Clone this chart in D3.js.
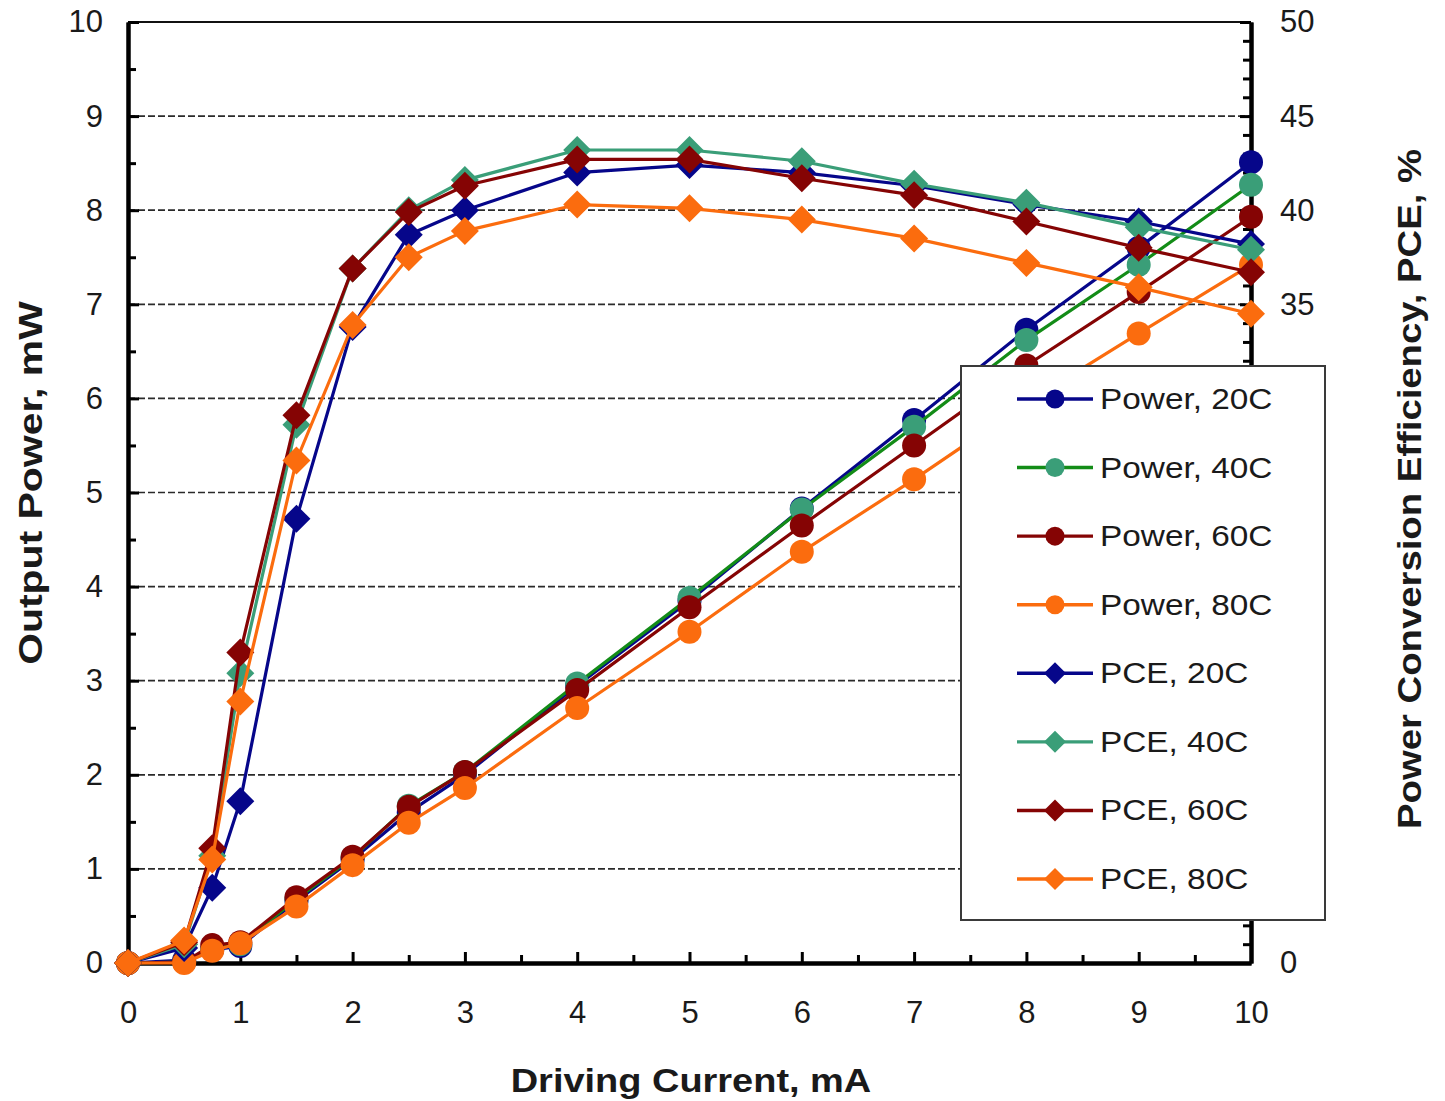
<!DOCTYPE html>
<html>
<head>
<meta charset="utf-8">
<script src="https://cdn.jsdelivr.net/npm/d3@7"></script>
<style>
  body { margin: 0; background: #ffffff; }
  text { font-family: "Liberation Sans", Arial, sans-serif; fill: #1a1a1a; }
</style>
</head>
<body>
<svg id="vis"></svg>
<script>
// driving current, mA
const current = [0, 0.5, 0.75, 1, 1.5, 2, 2.5, 3, 4, 5, 6, 7, 8, 9, 10];

// output power, mW (left axis)
const power20 = [0, 0.03, 0.14, 0.18, 0.66, 1.10, 1.60, 2.00, 2.95, 3.85, 4.83, 5.77, 6.73, 7.60, 8.51];
const power40 = [0, 0.01, 0.15, 0.20, 0.68, 1.12, 1.67, 2.03, 2.97, 3.88, 4.82, 5.70, 6.62, 7.42, 8.27];
const power60 = [0, 0.01, 0.19, 0.22, 0.70, 1.13, 1.66, 2.03, 2.90, 3.78, 4.65, 5.50, 6.35, 7.13, 7.93];
const power80 = [0, 0.00, 0.13, 0.21, 0.60, 1.04, 1.49, 1.86, 2.71, 3.52, 4.37, 5.14, 5.95, 6.69, 7.42];

// power conversion efficiency, % (right axis)
const pce20 = [0, 0.8, 4.0, 8.6, 23.6, 33.8, 38.7, 40.0, 42.0, 42.4, 42.0, 41.3, 40.3, 39.4, 38.2];
const pce40 = [0, 1.0, 5.7, 15.4, 28.6, 36.9, 40.0, 41.6, 43.2, 43.2, 42.6, 41.4, 40.4, 39.1, 37.9];
const pce60 = [0, 1.1, 6.1, 16.5, 29.1, 36.9, 39.9, 41.3, 42.7, 42.7, 41.7, 40.8, 39.4, 38.0, 36.7];
const pce80 = [0, 1.2, 5.5, 13.9, 26.7, 33.9, 37.5, 38.9, 40.3, 40.1, 39.5, 38.5, 37.2, 35.9, 34.5];

const xTicks = [0, 1, 2, 3, 4, 5, 6, 7, 8, 9, 10];
const leftTicks = [0, 1, 2, 3, 4, 5, 6, 7, 8, 9, 10];
const rightTicks = [0, 5, 10, 15, 20, 25, 30, 35, 40, 45, 50];

const seriesNames = ["Power, 20C", "Power, 40C", "Power, 60C", "Power, 80C",
                     "PCE, 20C", "PCE, 40C", "PCE, 60C", "PCE, 80C"];

const NAVY = "#06068a", GREEN = "#138c17", TEAL = "#3a9e78", MAROON = "#850404", ORANGE = "#fb6c0e";

const series = [
    {name: seriesNames[0], values: power20, axis: "left", line: NAVY, mark: NAVY, shape: "circle"},
    {name: seriesNames[1], values: power40, axis: "left", line: GREEN, mark: TEAL, shape: "circle"},
    {name: seriesNames[2], values: power60, axis: "left", line: MAROON, mark: MAROON, shape: "circle"},
    {name: seriesNames[3], values: power80, axis: "left", line: ORANGE, mark: ORANGE, shape: "circle"},
    {name: seriesNames[4], values: pce20, axis: "right", line: NAVY, mark: NAVY, shape: "diamond"},
    {name: seriesNames[5], values: pce40, axis: "right", line: TEAL, mark: TEAL, shape: "diamond"},
    {name: seriesNames[6], values: pce60, axis: "right", line: MAROON, mark: MAROON, shape: "diamond"},
    {name: seriesNames[7], values: pce80, axis: "right", line: ORANGE, mark: ORANGE, shape: "diamond"}
];

const W = 1445, H = 1101;
const PLOT = {left: 128, right: 1251, top: 22, bottom: 963};

const svg = d3.select("#vis").attr("width", W).attr("height", H);

const x = d3.scaleLinear().domain([0, 10]).range([PLOT.left, PLOT.right]);
const yL = d3.scaleLinear().domain([0, 10]).range([PLOT.bottom, PLOT.top]);
const yR = d3.scaleLinear().domain([0, 50]).range([PLOT.bottom, PLOT.top]);

// dashed gridlines at major left ticks
svg.append("g")
    .selectAll("line")
    .data(leftTicks.filter(d => d > 0 && d < 10))
    .enter().append("line")
    .attr("x1", PLOT.left).attr("x2", PLOT.right)
    .attr("y1", d => yL(d)).attr("y2", d => yL(d))
    .attr("stroke", "#2a2a2a")
    .attr("stroke-width", 1.7)
    .attr("stroke-dasharray", "7,3");

// top border
svg.append("line")
    .attr("x1", PLOT.left).attr("x2", PLOT.right)
    .attr("y1", PLOT.top).attr("y2", PLOT.top)
    .attr("stroke", "#111").attr("stroke-width", 2.2);

function styleAxis(g, width){
    g.select(".domain").attr("stroke", "#000").attr("stroke-width", width);
    g.selectAll(".tick line").attr("stroke", "#000").attr("stroke-width", 3);
    g.selectAll(".tick text")
        .attr("font-size", 31)
        .attr("font-family", "'Liberation Sans', Arial, sans-serif")
        .attr("fill", "#1a1a1a");
}

// x axis (ticks point up, into the plot)
const halves = d3.range(0.5, 10, 1);
svg.append("g")
    .attr("transform", "translate(0," + PLOT.bottom + ")")
    .call(d3.axisBottom(x).tickValues(halves).tickSize(-8).tickSizeOuter(0).tickFormat(""))
    .call(g => styleAxis(g, 4));
svg.append("g")
    .attr("transform", "translate(0," + PLOT.bottom + ")")
    .call(d3.axisBottom(x).tickValues(xTicks).tickSize(-11).tickSizeOuter(0).tickPadding(38).tickFormat(d3.format("d")))
    .call(g => styleAxis(g, 4));

// left axis
svg.append("g")
    .attr("transform", "translate(" + PLOT.left + ",0)")
    .call(d3.axisLeft(yL).tickValues(d3.range(0.5, 10, 1)).tickSize(-8).tickSizeOuter(0).tickFormat(""))
    .call(g => styleAxis(g, 4));
svg.append("g")
    .attr("transform", "translate(" + PLOT.left + ",0)")
    .call(d3.axisLeft(yL).tickValues(leftTicks).tickSize(-11).tickSizeOuter(0).tickPadding(25).tickFormat(d3.format("d")))
    .call(g => styleAxis(g, 4));

// right axis
svg.append("g")
    .attr("transform", "translate(" + PLOT.right + ",0)")
    .call(d3.axisRight(yR).tickValues(d3.range(1, 50, 1).filter(d => d % 5 !== 0)).tickSize(-8).tickSizeOuter(0).tickFormat(""))
    .call(g => styleAxis(g, 4));
svg.append("g")
    .attr("transform", "translate(" + PLOT.right + ",0)")
    .call(d3.axisRight(yR).tickValues(rightTicks).tickSize(-11).tickSizeOuter(0).tickPadding(29).tickFormat(d3.format("d")))
    .call(g => styleAxis(g, 4));

// circle or square diamond (half diagonal r) centred on 0,0
function markerPath(shape, r){
    if (shape === "circle") return d3.symbol().type(d3.symbolCircle).size(Math.PI * r * r)();
    return "M0," + (-r) + "L" + r + ",0L0," + r + "L" + (-r) + ",0Z";
}

series.forEach(function(s){
    const yS = s.axis === "left" ? yL : yR;
    const pts = current.map((c, i) => [c, s.values[i]]);
    const line = d3.line().x(d => x(d[0])).y(d => yS(d[1]));

    svg.append("path")
        .attr("d", line(pts))
        .attr("fill", "none")
        .attr("stroke", s.line)
        .attr("stroke-width", 3.2)
        .attr("stroke-linejoin", "round");

    svg.append("g")
        .selectAll("path")
        .data(pts)
        .enter().append("path")
        .attr("transform", d => "translate(" + x(d[0]) + "," + yS(d[1]) + ")")
        .attr("d", markerPath(s.shape, s.shape === "circle" ? 12 : 14))
        .attr("fill", s.mark);
});

// legend
const legend = svg.append("g").attr("transform", "translate(961,366)");
legend.append("rect")
    .attr("width", 364).attr("height", 554)
    .attr("fill", "#ffffff")
    .attr("stroke", "#3a3a3a")
    .attr("stroke-width", 2);

const legendY = d3.scalePoint().domain(seriesNames).range([33, 513]);

series.forEach(function(s){
    const g = legend.append("g").attr("transform", "translate(0," + legendY(s.name) + ")");
    g.append("line")
        .attr("x1", 56).attr("x2", 132)
        .attr("stroke", s.line).attr("stroke-width", 3.4);
    g.append("path")
        .attr("transform", "translate(94,0)")
        .attr("d", markerPath(s.shape, s.shape === "circle" ? 9.5 : 11))
        .attr("fill", s.mark);
    const t = g.append("text")
        .attr("x", 139).attr("y", 10)
        .attr("font-size", 29)
        .text(s.name);
    const w = t.node().getComputedTextLength();
    t.attr("textLength", w * 1.15).attr("lengthAdjust", "spacingAndGlyphs");
});

// axis titles
function stretchedTitle(sel, factor){
    const w = sel.node().getComputedTextLength();
    sel.attr("textLength", w * factor).attr("lengthAdjust", "spacingAndGlyphs");
}

const xTitle = svg.append("text")
    .attr("x", 691).attr("y", 1092)
    .attr("text-anchor", "middle")
    .attr("font-size", 33)
    .attr("font-weight", "bold")
    .text("Driving Current, mA");
stretchedTitle(xTitle, 1.15);

const yTitle = svg.append("text")
    .attr("transform", "translate(42,483) rotate(-90)")
    .attr("text-anchor", "middle")
    .attr("font-size", 33)
    .attr("font-weight", "bold")
    .text("Output Power, mW");
stretchedTitle(yTitle, 1.24);

const rTitle = svg.append("text")
    .attr("transform", "translate(1421,489) rotate(-90)")
    .attr("text-anchor", "middle")
    .attr("font-size", 33)
    .attr("font-weight", "bold")
    .text("Power Conversion Efficiency, PCE, %");
stretchedTitle(rTitle, 1.16);
</script>
</body>
</html>
